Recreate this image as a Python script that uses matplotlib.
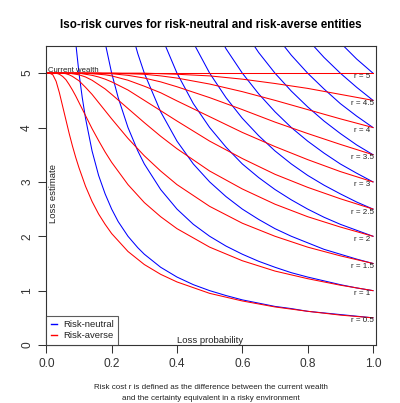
import matplotlib
matplotlib.use("Agg")
import matplotlib.pyplot as plt

plt.rcParams['font.family'] = ['Liberation Sans', 'DejaVu Sans']

# risk cost levels r (current wealth = 5)
risk_costs = [0.5, 1.0, 1.5, 2.0, 2.5, 3.0, 3.5, 4.0, 4.5, 5.0]
wealth = 5.0

# risk-neutral curves: loss estimate at each probability (tail of the grid)
neutral_p = [0.09, 0.10, 0.11, 0.12, 0.14, 0.16, 0.18, 0.20, 0.22, 0.25, 0.28, 0.30, 0.35,
             0.40, 0.45, 0.50, 0.55, 0.60, 0.65, 0.70, 0.75, 0.80, 0.85, 0.90, 0.95, 1.00]
neutral_loss = [
    [5.56, 5, 4.55, 4.17, 3.57, 3.12, 2.78, 2.5, 2.27, 2, 1.79, 1.67, 1.43,
     1.25, 1.11, 1, 0.91, 0.83, 0.77, 0.71, 0.67, 0.62, 0.59, 0.56, 0.53, 0.5],
    [5.56, 5, 4.55, 4, 3.57, 3.33, 2.86, 2.5, 2.22, 2, 1.82, 1.67, 1.54, 1.43,
     1.33, 1.25, 1.18, 1.11, 1.05, 1],
    [6, 5.36, 5, 4.29, 3.75, 3.33, 3, 2.73, 2.5, 2.31, 2.14, 2, 1.88, 1.76,
     1.67, 1.58, 1.5],
    [5.71, 5, 4.44, 4, 3.64, 3.33, 3.08, 2.86, 2.67, 2.5, 2.35, 2.22, 2.11, 2],
    [5.56, 5, 4.55, 4.17, 3.85, 3.57, 3.33, 3.12, 2.94, 2.78, 2.63, 2.5],
    [6, 5.45, 5, 4.62, 4.29, 4, 3.75, 3.53, 3.33, 3.16, 3],
    [5.83, 5.38, 5, 4.67, 4.38, 4.12, 3.89, 3.68, 3.5],
    [5.71, 5.33, 5, 4.71, 4.44, 4.21, 4],
    [6, 5.62, 5.29, 5, 4.74, 4.5],
    [5.88, 5.56, 5.26, 5],
]

# risk-averse curves
averse_p = [0, 0.01, 0.02, 0.03, 0.04, 0.05, 0.06, 0.07, 0.08, 0.09, 0.10, 0.12, 0.14,
            0.16, 0.18, 0.20, 0.25, 0.30, 0.35, 0.40, 0.50, 0.60, 0.70, 0.80, 0.90, 1.00]
averse_loss = [
    [5, 5, 4.97, 4.85, 4.64, 4.39, 4.14, 3.89, 3.66, 3.45, 3.26, 2.92, 2.64, 2.41, 2.22, 2.05, 1.72, 1.48, 1.3, 1.16, 0.95, 0.81, 0.7, 0.62, 0.55, 0.5],
    [5, 5, 5, 5, 4.98, 4.94, 4.88, 4.79, 4.69, 4.58, 4.46, 4.22, 3.98, 3.76, 3.55, 3.36, 2.95, 2.62, 2.36, 2.14, 1.8, 1.55, 1.36, 1.22, 1.1, 1],
    [5, 5, 5, 5, 5, 5, 4.99, 4.97, 4.94, 4.9, 4.86, 4.74, 4.61, 4.46, 4.31, 4.16, 3.8, 3.48, 3.2, 2.95, 2.55, 2.24, 2, 1.8, 1.64, 1.5],
    [5, 5, 5, 5, 5, 5, 5, 5, 4.99, 4.98, 4.97, 4.93, 4.87, 4.79, 4.71, 4.61, 4.35, 4.09, 3.84, 3.61, 3.2, 2.87, 2.59, 2.36, 2.17, 2],
    [5, 5, 5, 5, 5, 5, 5, 5, 5, 5, 5, 4.98, 4.96, 4.93, 4.89, 4.84, 4.69, 4.5, 4.31, 4.12, 3.75, 3.43, 3.14, 2.9, 2.69, 2.5],
    [5, 5, 5, 5, 5, 5, 5, 5, 5, 5, 5, 5, 4.99, 4.98, 4.97, 4.95, 4.87, 4.76, 4.64, 4.49, 4.2, 3.91, 3.65, 3.41, 3.19, 3],
    [5, 5, 5, 5, 5, 5, 5, 5, 5, 5, 5, 5, 5, 5, 4.99, 4.99, 4.96, 4.91, 4.84, 4.75, 4.55, 4.33, 4.1, 3.89, 3.69, 3.5],
    [5, 5, 5, 5, 5, 5, 5, 5, 5, 5, 5, 5, 5, 5, 5, 5, 4.99, 4.98, 4.95, 4.91, 4.8, 4.66, 4.5, 4.33, 4.16, 4],
    [5, 5, 5, 5, 5, 5, 5, 5, 5, 5, 5, 5, 5, 5, 5, 5, 5, 5, 4.99, 4.98, 4.95, 4.89, 4.81, 4.72, 4.61, 4.5],
    [5] * 26,
]

x_ticks = [0.0, 0.2, 0.4, 0.6, 0.8, 1.0]
y_ticks = [0, 1, 2, 3, 4, 5]

fig = plt.figure(figsize=(4.0, 4.03), dpi=100)
ax = fig.add_axes([0.1158, 0.1439, 0.8242, 0.742])

for i, r in enumerate(risk_costs):
    vals = neutral_loss[i]
    ax.plot(neutral_p[-len(vals):], vals, color='blue', lw=0.75,
            label='Risk-neutral' if i == 0 else None)
    ax.plot(averse_p, averse_loss[i], color='red', lw=0.75,
            label='Risk-averse' if i == 0 else None)
    ax.text(0.967, r - 0.055, 'r = %g' % r, fontsize=5.8, ha='center', va='center',
            color='#222222')

ax.text(0.006, wealth + 0.025, 'Current wealth', fontsize=5.6, ha='left', va='baseline',
        color='#222222')
ax.text(0.5, 0.03, 'Loss probability', fontsize=6.8, ha='center', va='baseline',
        color='#222222')
ax.text(0.021, 2.24, 'Loss estimate', fontsize=6.8, ha='center', va='bottom',
        rotation=90, color='#222222')

ax.set_xlim(0, 1.0092)
ax.set_ylim(0, 5.5)
ax.set_xticks(x_ticks)
ax.set_xticklabels(['%.1f' % t for t in x_ticks])
ax.set_yticks(y_ticks)
ax.set_yticklabels([str(t) for t in y_ticks], rotation=90, va='center')
ax.tick_params(axis='both', direction='out', length=5.5, width=0.75, color='#333333',
               labelsize=8.6, labelcolor='#333333', pad=4)
for sp in ax.spines.values():
    sp.set_color('#333333')
    sp.set_linewidth(0.8)

leg = ax.legend(loc='lower left', borderaxespad=0, fontsize=6.8, handlelength=0.6,
                handletextpad=0.65, borderpad=0.5, labelspacing=0.2, fancybox=False,
                frameon=True)
leg.get_frame().set_edgecolor('#333333')
leg.get_frame().set_linewidth(0.8)
for t in leg.get_texts():
    t.set_color('#222222')
for h in leg.get_lines():
    h.set_linewidth(1.0)

fig.text(0.5275, 0.9298, 'Iso-risk curves for risk-neutral and risk-averse entities',
         fontsize=8.35, fontweight='bold', ha='center', va='baseline')
fig.text(0.5275, 0.0347, 'Risk cost r is defined as the difference between the current wealth',
         fontsize=5.75, ha='center', va='baseline', color='#222222')
fig.text(0.5275, 0.008, 'and the certainty equivalent in a risky environment',
         fontsize=5.75, ha='center', va='baseline', color='#222222')

fig.savefig("out.png", dpi=100)
